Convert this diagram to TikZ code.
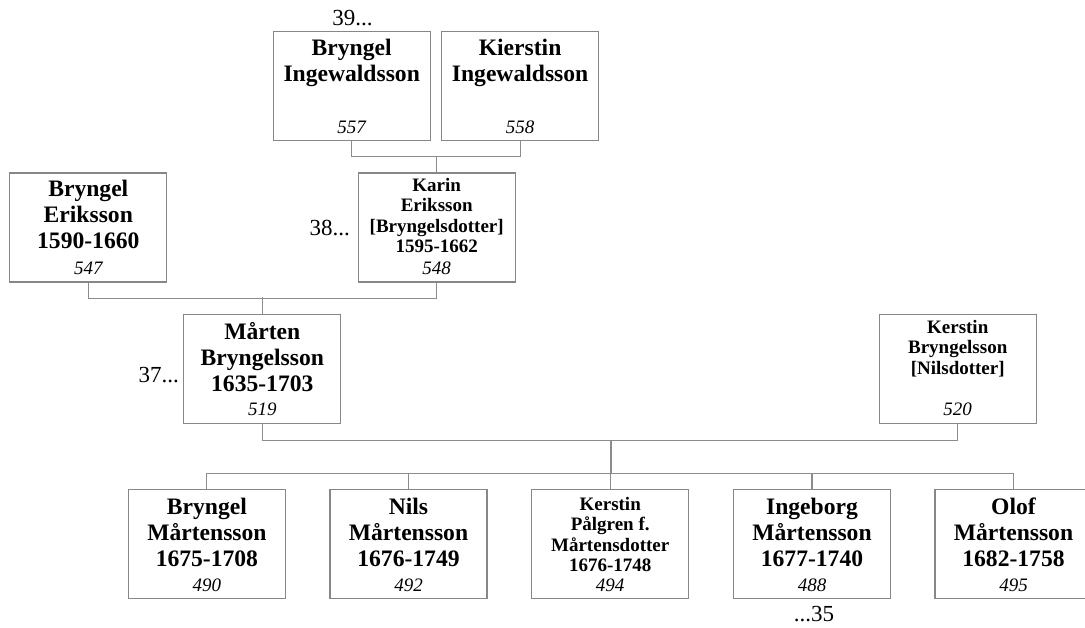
\documentclass[tikz,border=0pt]{standalone}
\usepackage{fontspec}
\setmainfont{Liberation Serif}
\definecolor{boxgray}{RGB}{135,135,135}
\definecolor{linegray}{RGB}{140,140,140}
\tikzset{
  pbox/.style={draw=boxgray, line width=1.3pt, fill=white, minimum width=157pt, minimum height=109pt, inner sep=0pt},
  bigname/.style={font=\fontsize{23.6}{26}\selectfont\bfseries, align=center, inner sep=0pt, anchor=base},
  smallname/.style={font=\fontsize{19}{20.5}\selectfont\bfseries, align=center, inner sep=0pt, anchor=base},
  num/.style={font=\fontsize{19}{22}\selectfont\itshape, inner sep=0pt, anchor=base},
  lbl/.style={font=\fontsize{23}{25}\selectfont, inner sep=0pt},
  conn/.style={draw=linegray, line width=1.1pt}
}
\begin{document}
\begin{tikzpicture}[x=1pt, y=-1pt]
\useasboundingbox (0,0) rectangle (1085,628);
\clip (0,0) rectangle (1085,628);
\fill[white] (0,0) rectangle (1085,628);

% generation 39
\node[pbox] (bi) at (351.7,86.3) {};
\node[bigname] (bi-t) at ([yshift=-50pt]bi.north) {Bryngel\\Ingewaldsson};
\node[num] (bi-n) at ([yshift=8pt]bi.south) {557};
\node[pbox] (ki) at (520.1,86.3) {};
\node[bigname] (ki-t) at ([yshift=-50pt]ki.north) {Kierstin\\Ingewaldsson};
\node[num] (ki-n) at ([yshift=8pt]ki.south) {558};
\node[lbl, anchor=base] (l39) at (352.5,26) {39...};

% generation 38
\node[pbox] (be) at (88.3,227.4) {};
\node[bigname] (be-t) at ([yshift=-76.5pt]be.north) {Bryngel\\Eriksson\\1590-1660};
\node[num] (be-n) at ([yshift=8pt]be.south) {547};
\node[pbox] (ke) at (436.7,227.4) {};
\node[smallname] (ke-t) at ([yshift=-80.5pt]ke.north) {Karin\\Eriksson\\{[}Bryngelsdotter{]}\\1595-1662};
\node[num] (ke-n) at ([yshift=8pt]ke.south) {548};
\node[lbl, anchor=base east] (l38) at (350,236) {38...};

% generation 37
\node[pbox] (mb) at (262.3,368.8) {};
\node[bigname] (mb-t) at ([yshift=-77.5pt]mb.north) {Mårten\\Bryngelsson\\1635-1703};
\node[num] (mb-n) at ([yshift=8pt]mb.south) {519};
\node[pbox] (kb) at (957.7,368.8) {};
\node[smallname] (kb-t) at ([yshift=-60.5pt]kb.north) {Kerstin\\Bryngelsson\\{[}Nilsdotter{]}};
\node[num] (kb-n) at ([yshift=8pt]kb.south) {520};
\node[lbl, anchor=base east] (l37) at (179,383) {37...};

% children
\node[pbox] (c1) at (206.9,544.3) {};
\node[bigname] (c1-t) at ([yshift=-77.5pt]c1.north) {Bryngel\\Mårtensson\\1675-1708};
\node[num] (c1-n) at ([yshift=8pt]c1.south) {490};
\node[pbox] (c2) at (408.5,544.3) {};
\node[bigname] (c2-t) at ([yshift=-77.5pt]c2.north) {Nils\\Mårtensson\\1676-1749};
\node[num] (c2-n) at ([yshift=8pt]c2.south) {492};
\node[pbox] (c3) at (610.2,544.3) {};
\node[smallname] (c3-t) at ([yshift=-82.5pt]c3.north) {Kerstin\\Pålgren f.\\Mårtensdotter\\1676-1748};
\node[num] (c3-n) at ([yshift=8pt]c3.south) {494};
\node[pbox] (c4) at (812,544.3) {};
\node[bigname] (c4-t) at ([yshift=-77.5pt]c4.north) {Ingeborg\\Mårtensson\\1677-1740};
\node[num] (c4-n) at ([yshift=8pt]c4.south) {488};
\node[pbox] (c5) at (1013.5,544.3) {};
\node[bigname] (c5-t) at ([yshift=-77.5pt]c5.north) {Olof\\Mårtensson\\1682-1758};
\node[num] (c5-n) at ([yshift=8pt]c5.south) {495};
\node[lbl, anchor=base] (l35) at (814,621) {...35};

% connectors
\draw[conn] (bi.south) -- ++(0,15) -| (ki.south);
\draw[conn] (ke.north) -- ++(0,-16.7);
\draw[conn] (be.south) -- ++(0,15.7) -| (ke.south);
\draw[conn] (mb.north) -- ++(0,-16.6);
\draw[conn] (mb.south) -- ++(0,16.2) -| (kb.south);
\coordinate (fam) at (611,440);
\coordinate (bar) at (611,473.5);
\draw[conn] (fam) -- (bar);
\draw[conn] (c1.north) -- (c1.north |- bar) -- (c5.north |- bar) -- (c5.north);
\draw[conn] (c2.north) -- (c2.north |- bar);
\draw[conn] (c3.north) -- (c3.north |- bar);
\draw[conn] (c4.north) -- (c4.north |- bar);
\end{tikzpicture}
\end{document}
